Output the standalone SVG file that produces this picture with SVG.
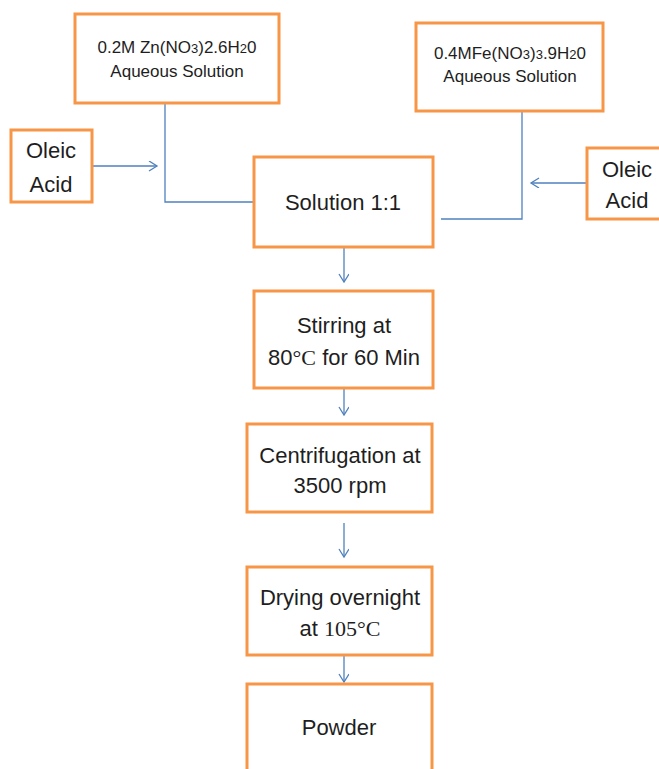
<svg xmlns="http://www.w3.org/2000/svg" width="659" height="769" viewBox="0 0 659 769">
<defs>
<style>
.box{fill:#fff;stroke:#F79646;stroke-width:3}
.t{font-family:"Liberation Sans",Arial,sans-serif;font-size:22px;fill:#1e1e1e;text-anchor:middle}
.s{font-family:"Liberation Sans",Arial,sans-serif;font-size:17px;fill:#1e1e1e;text-anchor:middle}
.sub{font-size:13px}
.serif{font-family:"Liberation Serif","Times New Roman",serif}
.c{fill:none;stroke:#4F81BD;stroke-width:1.3}
</style>
<marker id="arr" markerWidth="12" markerHeight="12" refX="9" refY="5" orient="auto" markerUnits="userSpaceOnUse" viewBox="0 0 12 12">
<path d="M1,0 L9,5 L1,10" fill="none" stroke="#4F81BD" stroke-width="1.3"/>
</marker>
</defs>
<rect width="659" height="769" fill="#fff"/>
<g id="connectors">
<path class="c" d="M92,166 H157" marker-end="url(#arr)"/>
<path class="c" d="M165,103 V202 H254"/>
<path class="c" d="M522,111 V219 H441"/>
<path class="c" d="M587,183 H531" marker-end="url(#arr)"/>
<path class="c" d="M344,247 V282" marker-end="url(#arr)"/>
<path class="c" d="M344,388 V415" marker-end="url(#arr)"/>
<path class="c" d="M344,523 V557" marker-end="url(#arr)"/>
<path class="c" d="M344,647 V682" marker-end="url(#arr)"/>
</g>
<g id="zn">
<rect class="box" x="75" y="14" width="204" height="89"/>
<text class="s" x="177" y="53">0.2M Zn(NO<tspan class="sub">3</tspan>)2.6H<tspan class="sub">2</tspan>0</text>
<text class="s" x="177" y="77">Aqueous Solution</text>
</g>
<g id="fe">
<rect class="box" x="416" y="23" width="187" height="88"/>
<text class="s" x="510" y="59">0.4MFe(NO<tspan class="sub">3</tspan>)<tspan class="sub">3</tspan>.9H<tspan class="sub">2</tspan>0</text>
<text class="s" x="510" y="82">Aqueous Solution</text>
</g>
<g id="oleic-left">
<rect class="box" x="11" y="130" width="81" height="72"/>
<text class="t" x="51" y="158">Oleic</text>
<text class="t" x="51" y="192">Acid</text>
</g>
<g id="oleic-right">
<rect class="box" x="587" y="148" width="90" height="71"/>
<text class="t" x="627" y="177">Oleic</text>
<text class="t" x="627" y="208">Acid</text>
</g>
<g id="solution">
<rect class="box" x="254" y="157" width="179" height="90"/>
<text class="t" x="343" y="210">Solution 1:1</text>
</g>
<g id="stirring">
<rect class="box" x="254" y="291" width="179" height="97"/>
<text class="t" x="344" y="333">Stirring at</text>
<text class="t" x="344" y="365">80<tspan class="serif">°C</tspan> for 60 Min</text>
</g>
<g id="centrifugation">
<rect class="box" x="247" y="424" width="185" height="88"/>
<text class="t" x="340" y="463">Centrifugation at</text>
<text class="t" x="340" y="493">3500 rpm</text>
</g>
<g id="drying">
<rect class="box" x="247" y="567" width="185" height="88"/>
<text class="t" x="340" y="605">Drying overnight</text>
<text class="t" x="340" y="636">at <tspan class="serif">105°C</tspan></text>
</g>
<g id="powder">
<rect class="box" x="247" y="684" width="185" height="110"/>
<text class="t" x="339" y="735">Powder</text>
</g>
</svg>
